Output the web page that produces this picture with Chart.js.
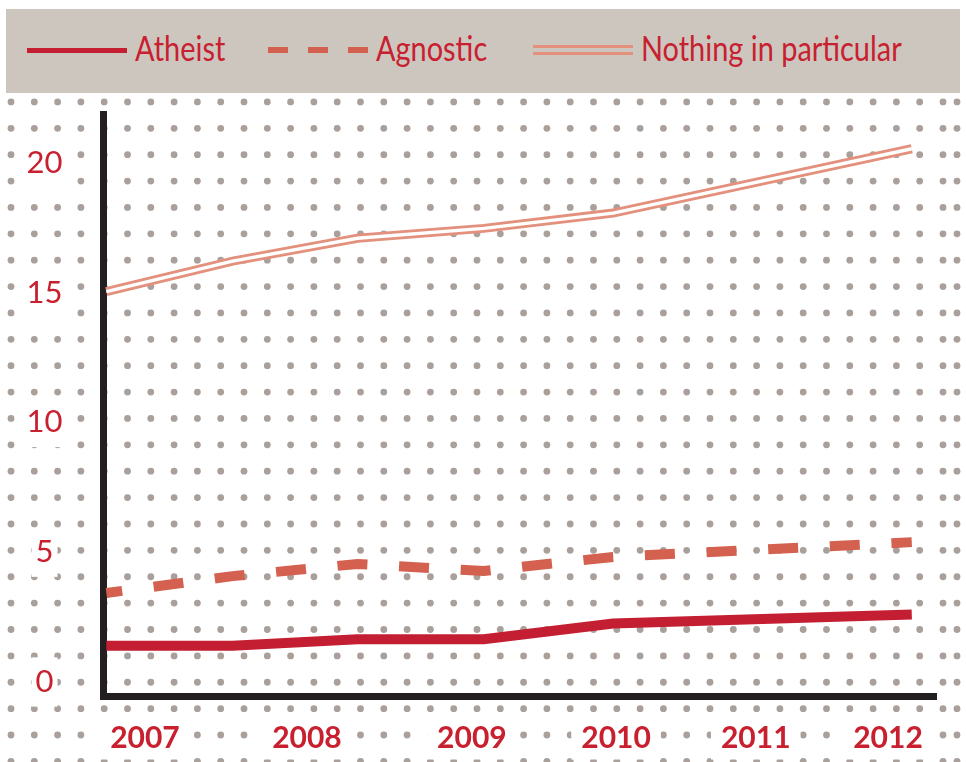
<!DOCTYPE html>
<html>
<head>
<meta charset="utf-8">
<script src="https://cdn.jsdelivr.net/npm/chart.js@4.4.1/dist/chart.umd.min.js"></script>
<style>
  html, body { margin: 0; padding: 0; background: #fff; }
  #wrap { position: relative; width: 966px; height: 762px; overflow: hidden; }
  #chart { position: absolute; left: 0; top: 0; }
  #legend {
    position: absolute; left: 6px; top: 9px; width: 954px; height: 84px;
    background: #cdc6bf;
    font-family: Lato, "Noto Sans", sans-serif;
    font-size: 34px; color: #c8202f;
  }
  .swatch { position: absolute; width: 100px; box-sizing: border-box; }
  .label {
    position: absolute; top: 19px; line-height: 40px; white-space: nowrap;
    transform: scaleX(0.85); transform-origin: left center;
  }
</style>
</head>
<body>
<div id="wrap">
  <canvas id="chart" width="966" height="762"></canvas>
  <div id="legend"></div>
</div>
<script>
// survey points (fractional year, as placed along the axis) and shares in %
const surveyAt = [2006.74, 2007.59, 2008.43, 2009.28, 2010.15, 2012.16];
const atheist  = [1.4, 1.4, 1.65, 1.65, 2.25, 2.6];
const agnostic = [3.43, 4.08, 4.55, 4.28, 4.82, 5.39];
const nothing  = [15.04, 16.22, 17.1, 17.48, 18.07, 20.55];

const years      = ['2007', '2008', '2009', '2010', '2011', '2012'];
const yearTickAt = [2007, 2008.09, 2009.2, 2010.17, 2011.11, 2012];
const yTicks     = [0, 5, 10, 15, 20];

const RED = '#c8202f';
const legendLeft = [21, 262, 527];   // swatch x inside the legend band

function toPoints(vals) {
    return surveyAt.map((x, i) => ({ x: x, y: vals[i] }));
}

// dotted paper behind the plot
const dotGrid = {
    id: 'dotGrid',
    beforeDraw(chart) {
        const ctx = chart.ctx;
        const cols = [];
        for (let x = 11; x < 950; x += 23.3) cols.push(x);
        cols.push(957);
        ctx.save();
        ctx.fillStyle = '#a9a09b';
        for (let y = 101.9; y < 766; y += 26.38) {
            cols.forEach(x => {
                ctx.beginPath();
                ctx.arc(x, y, 3.4, 0, Math.PI * 2);
                ctx.fill();
            });
        }
        ctx.restore();
    }
};

function buildLegend(chart) {
    const box = document.getElementById('legend');
    box.innerHTML = '';
    let n = 0;
    chart.data.datasets.forEach(ds => {
        if (ds.legendSkip) return;
        const left = legendLeft[n++];
        const sw = document.createElement('div');
        sw.className = 'swatch';
        sw.style.left = left + 'px';
        if (ds.double) {
            sw.style.top = '36px';
            sw.style.height = '10px';
            sw.style.borderTop = '3px solid ' + ds.borderColor;
            sw.style.borderBottom = '3px solid ' + ds.borderColor;
        } else if (ds.borderDash) {
            sw.style.top = '38px';
            sw.style.height = '6px';
            sw.style.background = 'repeating-linear-gradient(to right, ' + ds.borderColor + ' 0 20px, transparent 20px 40px)';
        } else {
            sw.style.top = '38.5px';
            sw.style.height = '5px';
            sw.style.background = ds.borderColor;
        }
        const lab = document.createElement('span');
        lab.className = 'label';
        lab.style.left = (left + 108) + 'px';
        lab.textContent = ds.label;
        box.appendChild(sw);
        box.appendChild(lab);
    });
}

const chart = new Chart(document.getElementById('chart').getContext('2d'), {
    type: 'line',
    data: {
        datasets: [
            { label: 'Atheist', data: toPoints(atheist), borderColor: '#c41e32', borderWidth: 10, order: 0 },
            { label: 'Agnostic', data: toPoints(agnostic), borderColor: '#d4604f', borderWidth: 10,
              borderDash: [30, 31.7], borderDashOffset: 14, order: 0 },
            { label: 'Nothing in particular', data: toPoints(nothing), borderColor: '#e3907d', borderWidth: 9,
              double: true, order: 2 },
            // white core turns the line above into a double line
            { label: 'core', data: toPoints(nothing), borderColor: '#ffffff', borderWidth: 3.4,
              legendSkip: true, order: 1 }
        ]
    },
    options: {
        responsive: false,
        animation: false,
        devicePixelRatio: 1,
        elements: { point: { radius: 0 }, line: { tension: 0, fill: false } },
        layout: { padding: { top: 114.5, right: 30, left: 0, bottom: 0 } },
        plugins: { legend: { display: false }, tooltip: { enabled: false } },
        scales: {
            x: {
                type: 'linear',
                min: 2006.721,
                max: 2012.323,
                afterFit(s) { s.height = 65.5; },
                afterBuildTicks(s) { s.ticks = yearTickAt.map(v => ({ value: v })); },
                grid: { display: false, drawTicks: false },
                border: { display: true, color: '#231f20', width: 7 },
                ticks: {
                    callback: (v, i) => years[i],
                    autoSkip: false, maxRotation: 0,
                    color: RED,
                    font: { family: 'Lato', weight: 'bold', size: 30 },
                    padding: 24,
                    showLabelBackdrop: true, backdropColor: '#ffffff',
                    backdropPadding: { x: 10, y: 3 }
                }
            },
            y: {
                min: -0.559,
                max: 21.869,
                afterFit(s) { s.width = 103.5; },
                afterBuildTicks(s) { s.ticks = yTicks.map(v => ({ value: v })); },
                grid: { display: false, drawTicks: false },
                border: { display: true, color: '#231f20', width: 7 },
                ticks: {
                    color: RED,
                    font: { family: 'Lato', weight: 'normal', size: 31 },
                    padding: 41,
                    crossAlign: 'center',
                    showLabelBackdrop: true, backdropColor: '#ffffff',
                    backdropPadding: { x: 4, y: 6 }
                }
            }
        }
    },
    plugins: [dotGrid]
});

buildLegend(chart);
</script>
</body>
</html>
